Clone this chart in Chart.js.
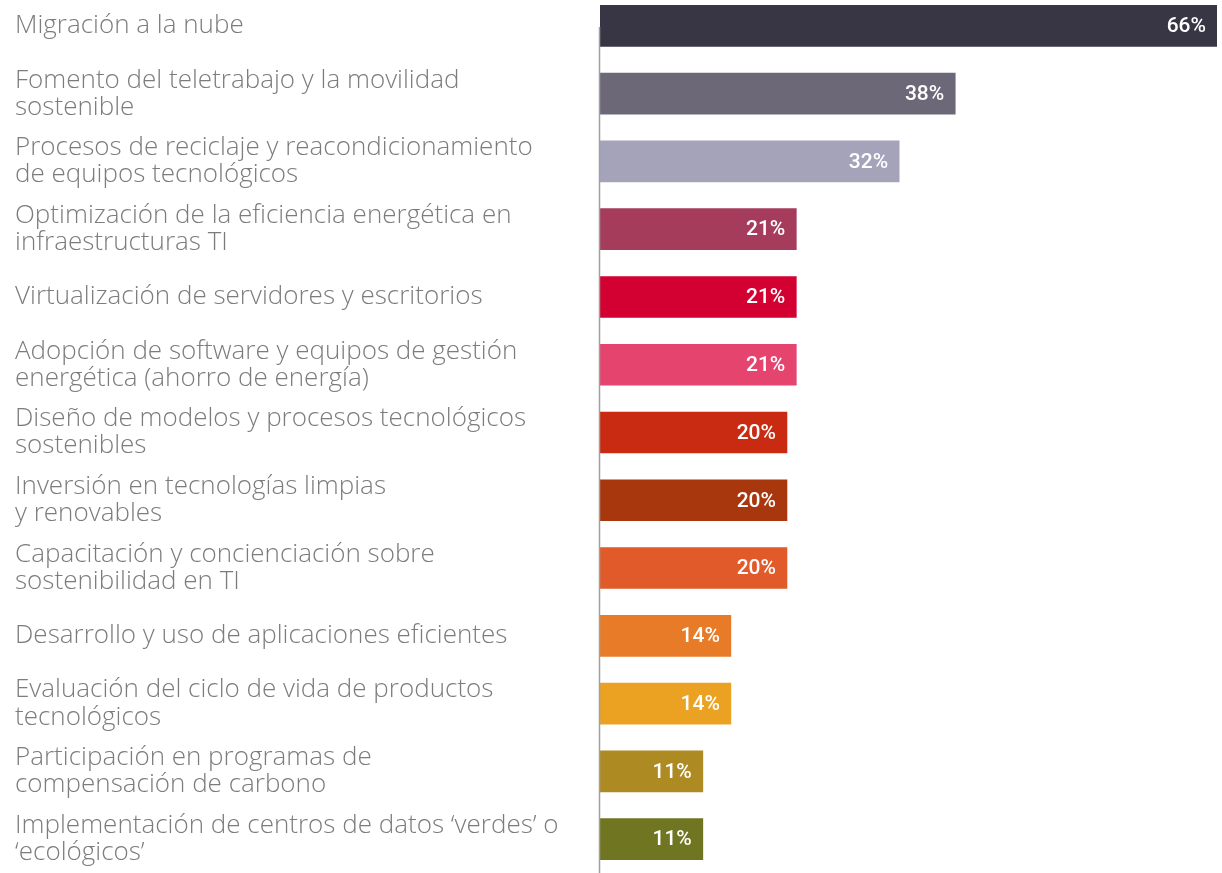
<!DOCTYPE html>
<html>
<head>
<meta charset="utf-8">
<script src="https://cdn.jsdelivr.net/npm/chart.js@4/dist/chart.umd.min.js"></script>
<style>
  html, body { margin: 0; padding: 0; background: #fff; overflow: hidden; }
  #wrap { position: absolute; left: 0; top: -8px; width: 1222px; height: 881px; }
</style>
</head>
<body>
<div id="wrap"><canvas id="chart"></canvas></div>
<script>
// categories (line breaks as in the picture)
const categories = [
    ['Migración a la nube'],
    ['Fomento del teletrabajo y la movilidad', 'sostenible'],
    ['Procesos de reciclaje y reacondicionamiento', 'de equipos tecnológicos'],
    ['Optimización de la eficiencia energética en', 'infraestructuras TI'],
    ['Virtualización de servidores y escritorios'],
    ['Adopción de software y equipos de gestión', 'energética (ahorro de energía)'],
    ['Diseño de modelos y procesos tecnológicos', 'sostenibles'],
    ['Inversión en tecnologías limpias', 'y renovables'],
    ['Capacitación y concienciación sobre', 'sostenibilidad en TI'],
    ['Desarrollo y uso de aplicaciones eficientes'],
    ['Evaluación del ciclo de vida de productos', 'tecnológicos'],
    ['Participación en programas de', 'compensación de carbono'],
    ['Implementación de centros de datos ‘verdes’ o', '‘ecológicos’']
];
const values = [66, 38, 32, 21, 21, 21, 20, 20, 20, 14, 14, 11, 11];
const barColors = [
    '#383645', '#6c6878', '#a5a3ba', '#a53c5c', '#d30032', '#e4446e', '#c92b12',
    '#a8370e', '#e05a2a', '#e77b27', '#eba223', '#ae8a22', '#6f7520'
];
const xMax = 66;

// white percentage inside the end of each bar
const valueLabels = {
    id: 'valueLabels',
    afterDatasetsDraw(chart) {
        const ctx = chart.ctx;
        const meta = chart.getDatasetMeta(0);
        ctx.save();
        ctx.fillStyle = '#ffffff';
        ctx.font = '500 21px Roboto, sans-serif';
        ctx.textAlign = 'right';
        ctx.textBaseline = 'middle';
        meta.data.forEach((bar, i) => {
            ctx.fillText(values[i] + '%', bar.x - 11, bar.y + 1);
        });
        ctx.restore();
    }
};

// grey vertical axis line, starting at the first bar
const axisLine = {
    id: 'axisLine',
    afterDatasetsDraw(chart) {
        const ctx = chart.ctx;
        const yScale = chart.scales.y;
        const x = chart.chartArea.left - 0.5;
        ctx.save();
        ctx.strokeStyle = '#a0a0a0';
        ctx.lineWidth = 1.5;
        ctx.beginPath();
        ctx.moveTo(x, yScale.getPixelForValue(0) + 1);
        ctx.lineTo(x, chart.chartArea.bottom);
        ctx.stroke();
        ctx.restore();
    }
};

new Chart(document.getElementById('chart'), {
    type: 'bar',
    data: {
        labels: categories,
        datasets: [{
            data: values,
            backgroundColor: barColors,
            barThickness: 41,
            borderWidth: 0
        }]
    },
    options: {
        indexAxis: 'y',
        responsive: true,
        maintainAspectRatio: false,
        animation: false,
        layout: { padding: { left: 15, right: 5, top: 0, bottom: 0 } },
        plugins: {
            legend: { display: false },
            tooltip: { enabled: false }
        },
        scales: {
            x: {
                display: false,
                min: 0,
                max: xMax
            },
            y: {
                afterFit: (scale) => {
                    scale.width = 585;
                    // let the labels overflow instead of shrinking the plot
                    scale.paddingTop = 0;
                    scale.paddingBottom = 0;
                },
                grid: { display: false },
                border: { display: false },
                ticks: {
                    crossAlign: 'far',
                    color: '#7c7c7c',
                    font: { family: '"Open Sans", Lato, sans-serif', size: 26, weight: 300, lineHeight: 1.04 }
                }
            }
        }
    },
    plugins: [valueLabels, axisLine]
});
</script>
</body>
</html>
